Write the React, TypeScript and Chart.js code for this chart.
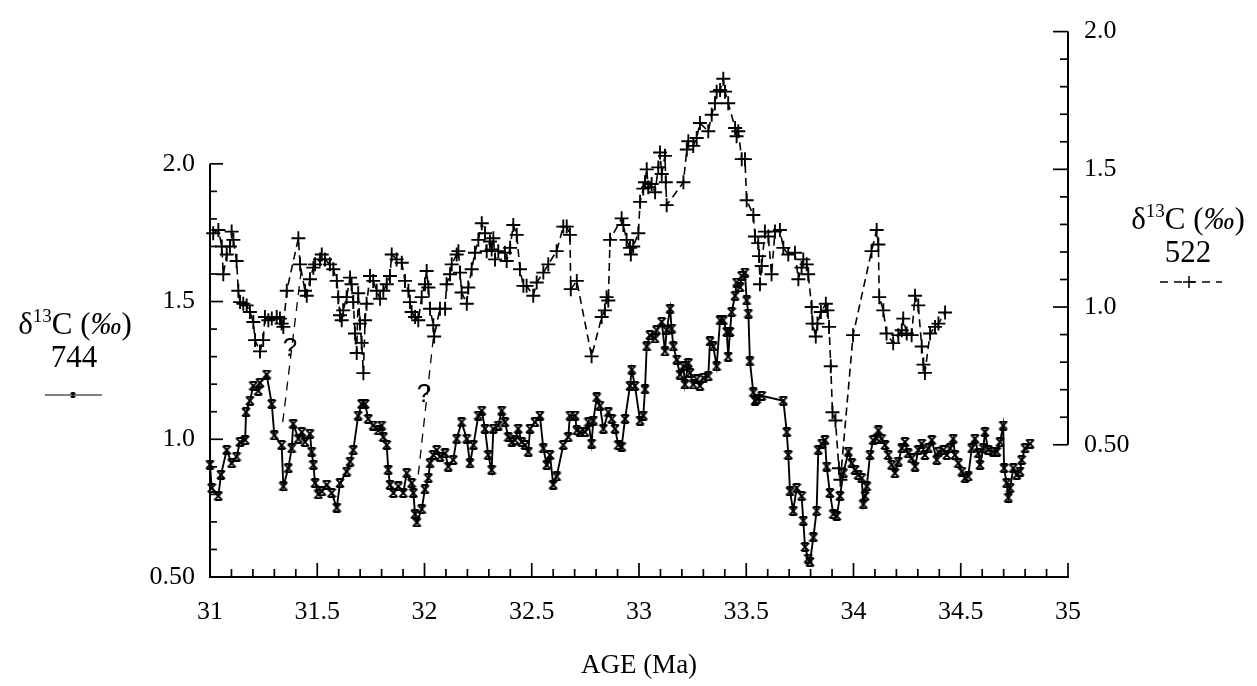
import React, { useEffect, useRef } from "react";
import { Chart, registerables } from "chart.js";

Chart.register(...registerables);

// ---- Data: Site 744 (left axis, solid) ----
const ages744 = [
  31.000, 31.008, 31.039, 31.051, 31.078, 31.101, 31.124, 31.140, 31.164, 31.168,
  31.186, 31.202, 31.225, 31.233, 31.264, 31.288, 31.300, 31.334, 31.342, 31.365,
  31.381, 31.388, 31.412, 31.428, 31.443, 31.466, 31.474, 31.482, 31.490, 31.505,
  31.521, 31.544, 31.567, 31.591, 31.606, 31.637, 31.653, 31.668, 31.691, 31.707,
  31.723, 31.738, 31.761, 31.785, 31.800, 31.808, 31.824, 31.831, 31.839, 31.855,
  31.878, 31.901, 31.917, 31.940, 31.948, 31.956, 31.964, 31.987, 32.002, 32.018,
  32.026, 32.041, 32.057, 32.072, 32.096, 32.111, 32.134, 32.150, 32.173, 32.197,
  32.212, 32.228, 32.251, 32.267, 32.282, 32.297, 32.313, 32.321, 32.344, 32.360,
  32.375, 32.391, 32.407, 32.422, 32.437, 32.453, 32.469, 32.484, 32.492, 32.515,
  32.538, 32.554, 32.570, 32.585, 32.600, 32.616, 32.647, 32.670, 32.678, 32.702,
  32.710, 32.725, 32.748, 32.764, 32.779, 32.787, 32.803, 32.818, 32.834, 32.857,
  32.873, 32.888, 32.904, 32.919, 32.935, 32.958, 32.966, 32.981, 33.005, 33.020,
  33.028, 33.036, 33.051, 33.075, 33.082, 33.106, 33.121, 33.129, 33.145, 33.152,
  33.160, 33.176, 33.191, 33.207, 33.214, 33.230, 33.238, 33.253, 33.269, 33.284,
  33.300, 33.323, 33.331, 33.346, 33.362, 33.378, 33.393, 33.409, 33.416, 33.424,
  33.432, 33.448, 33.455, 33.471, 33.479, 33.494, 33.502, 33.510, 33.517, 33.533,
  33.541, 33.549, 33.572, 33.673, 33.689, 33.696, 33.704, 33.719, 33.735, 33.758,
  33.766, 33.774, 33.789, 33.797, 33.813, 33.828, 33.836, 33.852, 33.867, 33.875,
  33.890, 33.906, 33.922, 33.937, 33.953, 33.976, 33.992, 34.007, 34.022, 34.038,
  34.046, 34.054, 34.062, 34.077, 34.092, 34.108, 34.116, 34.131, 34.147, 34.162,
  34.178, 34.193, 34.209, 34.225, 34.240, 34.255, 34.271, 34.287, 34.302, 34.318,
  34.333, 34.349, 34.365, 34.388, 34.396, 34.419, 34.435, 34.450, 34.465, 34.473,
  34.489, 34.505, 34.520, 34.535, 34.551, 34.566, 34.582, 34.590, 34.605, 34.613,
  34.628, 34.652, 34.668, 34.683, 34.698, 34.702, 34.714, 34.722, 34.730, 34.745,
  34.761, 34.776, 34.784, 34.800, 34.823,
];
const d13C744 = [
  0.908, 0.823, 0.794, 0.871, 0.961, 0.913, 0.937, 0.990, 0.997, 1.098,
  1.140, 1.194, 1.176, 1.205, 1.235, 1.128, 1.014, 0.979, 0.829, 0.895,
  0.967, 1.056, 1.002, 1.026, 0.990, 1.020, 0.955, 0.907, 0.841, 0.800,
  0.811, 0.835, 0.805, 0.752, 0.841, 0.883, 0.919, 0.961, 1.086, 1.128,
  1.128, 1.074, 1.050, 1.032, 1.050, 1.008, 0.979, 0.889, 0.835, 0.805,
  0.829, 0.805, 0.877, 0.841, 0.805, 0.728, 0.698, 0.746, 0.818, 0.859,
  0.913, 0.943, 0.961, 0.937, 0.949, 0.901, 0.925, 1.002, 1.062, 1.002,
  0.913, 0.979, 1.086, 1.104, 1.038, 0.943, 0.889, 1.038, 1.050, 1.104,
  1.062, 1.008, 0.990, 0.997, 1.038, 0.990, 0.979, 0.955, 1.038, 1.062,
  1.086, 0.967, 0.907, 0.943, 0.835, 0.865, 0.979, 1.008, 1.086, 1.086,
  1.032, 1.026, 1.026, 1.062, 0.984, 1.068, 1.152, 1.122, 1.038, 1.098,
  1.074, 1.038, 0.979, 0.973, 1.074, 1.194, 1.253, 1.194, 1.068, 1.086,
  1.181, 1.337, 1.378, 1.366, 1.396, 1.426, 1.319, 1.396, 1.474, 1.402,
  1.337, 1.289, 1.235, 1.265, 1.199, 1.277, 1.241, 1.199, 1.217, 1.194,
  1.223, 1.229, 1.355, 1.337, 1.265, 1.432, 1.432, 1.390, 1.300, 1.390,
  1.462, 1.521, 1.569, 1.552, 1.593, 1.605, 1.504, 1.456, 1.283, 1.170,
  1.140, 1.146, 1.158, 1.140, 1.026, 0.943, 0.811, 0.740, 0.823, 0.794,
  0.704, 0.609, 0.567, 0.555, 0.644, 0.740, 0.961, 0.984, 0.997, 0.901,
  0.805, 0.728, 0.722, 0.794, 0.877, 0.955, 0.913, 0.889, 0.871, 0.859,
  0.764, 0.794, 0.829, 0.943, 0.997, 1.002, 1.032, 1.002, 0.979, 0.943,
  0.907, 0.877, 0.919, 0.967, 0.990, 0.949, 0.931, 0.901, 0.961, 0.984,
  0.943, 0.967, 0.997, 0.925, 0.955, 0.961, 0.943, 0.967, 1.002, 0.943,
  0.913, 0.883, 0.859, 0.865, 0.967, 1.002, 0.949, 0.907, 0.967, 1.026,
  0.961, 0.955, 0.955, 0.990, 1.050, 0.895, 0.841, 0.788, 0.823, 0.895,
  0.871, 0.883, 0.925, 0.967, 0.984,
];

// ---- Data: Site 522 (right axis, dashed) ----
const ages522 = [
  31.015, 31.039, 31.055, 31.062, 31.078, 31.093, 31.101, 31.109, 31.124, 31.132,
  31.140, 31.155, 31.171, 31.186, 31.202, 31.210, 31.233, 31.248, 31.256, 31.272,
  31.288, 31.311, 31.326, 31.334, 31.342, 31.358, 31.412, 31.420, 31.443, 31.451,
  31.466, 31.482, 31.490, 31.513, 31.521, 31.536, 31.559, 31.575, 31.591, 31.598,
  31.606, 31.614, 31.621, 31.637, 31.653, 31.660, 31.668, 31.676, 31.684, 31.691,
  31.699, 31.707, 31.715, 31.723, 31.730, 31.746, 31.761, 31.777, 31.793, 31.808,
  31.824, 31.839, 31.847, 31.870, 31.894, 31.909, 31.925, 31.932, 31.940, 31.956,
  31.971, 31.987, 32.002, 32.010, 32.018, 32.026, 32.041, 32.045, 32.072, 32.096,
  32.103, 32.119, 32.127, 32.150, 32.158, 32.166, 32.173, 32.197, 32.204, 32.220,
  32.235, 32.251, 32.267, 32.282, 32.290, 32.305, 32.313, 32.321, 32.329, 32.344,
  32.375, 32.383, 32.399, 32.414, 32.430, 32.445, 32.461, 32.476, 32.507, 32.523,
  32.554, 32.577, 32.616, 32.647, 32.663, 32.678, 32.682, 32.710, 32.779, 32.826,
  32.841, 32.849, 32.857, 32.865, 32.919, 32.927, 32.942, 32.958, 32.962, 32.973,
  32.997, 33.005, 33.020, 33.028, 33.036, 33.043, 33.059, 33.075, 33.090, 33.098,
  33.106, 33.121, 33.125, 33.129, 33.207, 33.223, 33.230, 33.253, 33.269, 33.284,
  33.323, 33.339, 33.354, 33.362, 33.378, 33.393, 33.401, 33.416, 33.448, 33.455,
  33.463, 33.479, 33.494, 33.502, 33.533, 33.541, 33.556, 33.560, 33.564, 33.572,
  33.587, 33.603, 33.618, 33.634, 33.657, 33.673, 33.696, 33.727, 33.743, 33.758,
  33.766, 33.782, 33.789, 33.805, 33.809, 33.824, 33.832, 33.848, 33.871, 33.879,
  33.886, 33.894, 33.902, 33.916, 33.932, 33.939, 33.998, 34.084, 34.108, 34.116,
  34.120, 34.139, 34.154, 34.185, 34.209, 34.225, 34.232, 34.248, 34.271, 34.287,
  34.302, 34.318, 34.326, 34.333, 34.357, 34.380, 34.396, 34.427,
];
const d13C522 = [
  1.268, 1.280, 1.220, 1.119, 1.191, 1.220, 1.274, 1.244, 1.167, 1.059,
  1.018, 1.012, 1.006, 0.982, 0.946, 0.880, 0.839, 0.880, 0.964, 0.952,
  0.958, 0.964, 0.958, 0.940, 0.928, 1.059, 1.250, 1.155, 1.059, 1.041,
  1.101, 1.143, 1.155, 1.173, 1.191, 1.173, 1.155, 1.137, 1.095, 1.036,
  0.970, 0.952, 0.988, 1.036, 1.107, 1.083, 1.018, 0.904, 0.833, 1.050,
  0.940, 0.870, 0.760, 0.952, 1.012, 1.113, 1.095, 1.059, 1.030, 1.059,
  1.083, 1.113, 1.191, 1.173, 1.161, 1.095, 1.059, 1.018, 0.982, 0.964,
  0.952, 1.036, 1.083, 1.131, 1.071, 0.994, 0.934, 0.893, 0.994, 0.994,
  1.083, 1.119, 1.155, 1.191, 1.203, 1.125, 1.053, 1.012, 1.071, 1.137,
  1.197, 1.244, 1.304, 1.268, 1.203, 1.238, 1.209, 1.250, 1.173, 1.203,
  1.197, 1.167, 1.215, 1.298, 1.262, 1.137, 1.077, 1.077, 1.041, 1.089,
  1.125, 1.155, 1.203, 1.292, 1.292, 1.262, 1.065, 1.095, 0.821, 0.964,
  0.988, 1.036, 1.024, 1.244, 1.322, 1.298, 1.244, 1.215, 1.191, 1.220,
  1.268, 1.382, 1.430, 1.453, 1.500, 1.435, 1.447, 1.417, 1.507, 1.561,
  1.483, 1.549, 1.453, 1.370, 1.453, 1.572, 1.602, 1.585, 1.614, 1.668,
  1.638, 1.698, 1.740, 1.782, 1.788, 1.829, 1.782, 1.740, 1.650, 1.620,
  1.638, 1.537, 1.537, 1.388, 1.334, 1.256, 1.232, 1.185, 1.083, 1.149,
  1.274, 1.256, 1.119, 1.274, 1.280, 1.215, 1.191, 1.197, 1.101, 1.143,
  1.173, 1.155, 1.119, 1.000, 0.940, 0.893, 0.940, 0.982, 1.012, 0.988,
  0.928, 0.785, 0.618, 0.588, 0.415, 0.373, 0.898, 1.203, 1.280, 1.227,
  1.036, 0.988, 0.904, 0.869, 0.898, 0.916, 0.958, 0.904, 0.898, 1.041,
  1.006, 0.857, 0.791, 0.761, 0.904, 0.928, 0.940, 0.980,
];

// ---- Correlation connectors ("?") in left-axis units ----
const connector1Ages = [31.339, 31.427];
const connector1Vals = [1.062, 1.624];
const connector2Ages = [31.971, 32.041];
const connector2Vals = [0.872, 1.366];
const questionAges = [31.373, 31.998];
const questionVals = [1.33, 1.162];

// ---- Axis ticks ----
const ageTicks = [31, 31.5, 32, 32.5, 33, 33.5, 34, 34.5, 35];
const leftTicks = [0.5, 1.0, 1.5, 2.0];
const rightTicks = [0.5, 1.0, 1.5, 2.0];
const tickLabel = (v: number) => (v === 0.5 ? "0.50" : v.toFixed(1));

const SERIF = '"Liberation Serif", "Times New Roman", serif';

function makeHourglass(size: number, lw: number) {
  const c = document.createElement("canvas");
  c.width = size;
  c.height = size;
  const g = c.getContext("2d")!;
  g.strokeStyle = "#000";
  g.lineWidth = lw;
  const a = lw / 2;
  const b = size - lw / 2;
  g.beginPath();
  g.moveTo(a, a);
  g.lineTo(b, b);
  g.moveTo(b, a);
  g.lineTo(a, b);
  g.moveTo(a + 1, a);
  g.lineTo(b - 1, a);
  g.moveTo(a + 1, b);
  g.lineTo(b - 1, b);
  g.stroke();
  return c;
}

function drawDeltaLabel(ctx: CanvasRenderingContext2D, cx: number, cy: number, size: number) {
  const big = `${size}px ${SERIF}`;
  const small = `${Math.round(size * 0.62)}px ${SERIF}`;
  const ital = `italic ${size}px ${SERIF}`;
  const parts = [
    { t: "δ", f: big, dy: 0 },
    { t: "13", f: small, dy: -size * 0.3 },
    { t: "C (", f: big, dy: 0 },
    { t: "‰", f: ital, dy: 0 },
    { t: ")", f: big, dy: 0 },
  ];
  let w = 0;
  for (const p of parts) {
    ctx.font = p.f;
    w += ctx.measureText(p.t).width;
  }
  let x = cx - w / 2;
  ctx.textBaseline = "middle";
  ctx.textAlign = "left";
  for (const p of parts) {
    ctx.font = p.f;
    ctx.fillText(p.t, x, cy + p.dy);
    x += ctx.measureText(p.t).width;
  }
}

const decorPlugin = {
  id: "decor",
  afterDatasetsDraw(chart: any) {
    const { ctx } = chart;
    const xs = chart.scales.x;
    const yL = chart.scales.yL;
    const yR = chart.scales.yR;
    const line = (x1: number, y1: number, x2: number, y2: number) => {
      ctx.beginPath();
      ctx.moveTo(x1, y1);
      ctx.lineTo(x2, y2);
      ctx.stroke();
    };
    ctx.save();
    ctx.strokeStyle = "#000";
    ctx.fillStyle = "#000";
    ctx.lineWidth = 2;
    ctx.setLineDash([]);
    const x0 = xs.getPixelForValue(31);
    const x1 = xs.getPixelForValue(35);
    const yb = yL.getPixelForValue(0.5);
    const yt = yL.getPixelForValue(2.0);
    const rb = yR.getPixelForValue(0.5);
    const rt = yR.getPixelForValue(2.0);
    line(x0 - 1, yb, x1 + 1, yb);
    line(x0, yb, x0, yt);
    line(x1, rb, x1, rt);
    ctx.lineWidth = 1.7;
    for (let i = 1; i <= 40; i++) {
      const px = xs.getPixelForValue(31 + i * 0.1);
      const major = i % 5 === 0;
      line(px, yb, px, yb - (major ? 14 : 8));
    }
    for (let i = 0; i <= 15; i++) {
      const v = 0.5 + i * 0.1;
      const major = i % 5 === 0;
      const pl = yL.getPixelForValue(v);
      line(x0, pl, x0 + (major ? 13 : 7), pl);
      const pr = yR.getPixelForValue(v);
      line(x1, pr, x1 - (major ? 15 : 8), pr);
    }

    // question marks
    ctx.font = `26px "Liberation Sans", Arial, sans-serif`;
    ctx.textAlign = "center";
    ctx.textBaseline = "middle";
    for (let i = 0; i < questionAges.length; i++) {
      ctx.fillText("?", xs.getPixelForValue(questionAges[i]), yL.getPixelForValue(questionVals[i]));
    }

    // left axis label
    drawDeltaLabel(ctx, 75, 326, 31);
    ctx.font = `31px ${SERIF}`;
    ctx.textAlign = "center";
    ctx.fillText("744", 74, 359);
    ctx.lineWidth = 1.2;
    line(45, 395, 102, 395);
    const mk = makeHourglass(6, 1.5);
    ctx.drawImage(mk, 73 - 3, 395 - 3);

    // right axis label
    drawDeltaLabel(ctx, 1188, 221, 31);
    ctx.font = `31px ${SERIF}`;
    ctx.textAlign = "center";
    ctx.fillText("522", 1188, 254);
    ctx.lineWidth = 1.5;
    ctx.setLineDash([8, 6]);
    line(1160, 282, 1222, 282);
    ctx.setLineDash([]);
    line(1189, 276, 1189, 288);
    line(1183, 282, 1195, 282);
    ctx.restore();
  },
};

export default function App() {
  const ref = useRef<HTMLCanvasElement | null>(null);
  useEffect(() => {
    const canvas = ref.current;
    if (!canvas) return;
    const marker744 = makeHourglass(10, 1.9);
    const tickFont = { family: SERIF, size: 26 };
    const chart = new Chart(canvas, {
      type: "line",
      data: {
        datasets: [
          {
            label: "744",
            data: ages744.map((a, i) => ({ x: a, y: d13C744[i] })),
            yAxisID: "yL",
            borderColor: "#000",
            borderWidth: 1.9,
            pointStyle: marker744 as any,
            pointRadius: 5,
            pointBorderColor: "#000",
            fill: false,
            tension: 0,
            clip: 12,
          },
          {
            label: "522",
            data: ages522.map((a, i) => ({ x: a, y: d13C522[i] })),
            yAxisID: "yR",
            borderColor: "#000",
            borderWidth: 1.6,
            borderDash: [8, 5],
            pointStyle: "cross",
            pointRadius: 7,
            pointBorderWidth: 1.9,
            pointBorderColor: "#000",
            fill: false,
            tension: 0,
            clip: 12,
          },
          {
            label: "c1",
            data: connector1Ages.map((a, i) => ({ x: a, y: connector1Vals[i] })),
            yAxisID: "yL",
            borderColor: "#000",
            borderWidth: 1.3,
            borderDash: [9, 7],
            pointRadius: 0,
            fill: false,
          },
          {
            label: "c2",
            data: connector2Ages.map((a, i) => ({ x: a, y: connector2Vals[i] })),
            yAxisID: "yL",
            borderColor: "#000",
            borderWidth: 1.3,
            borderDash: [9, 7],
            pointRadius: 0,
            fill: false,
          },
        ],
      },
      options: {
        animation: false,
        responsive: false,
        events: [],
        layout: { padding: { top: 22, left: 0, right: 0, bottom: 0 } },
        plugins: { legend: { display: false }, tooltip: { enabled: false } },
        scales: {
          x: {
            type: "linear",
            position: "bottom",
            min: 31,
            max: 35,
            grid: { display: false, drawTicks: false },
            border: { display: false },
            afterBuildTicks: (s: any) => {
              s.ticks = ageTicks.map((v) => ({ value: v }));
            },
            ticks: {
              font: tickFont,
              color: "#000",
              padding: 20,
              maxRotation: 0,
              autoSkip: false,
              callback: (v: any) => String(v),
            },
            title: {
              display: true,
              text: "AGE (Ma)",
              color: "#000",
              font: { family: SERIF, size: 27 },
              padding: { top: 0, bottom: 4 },
            },
            afterFit: (s: any) => {
              s.height = 109;
            },
          },
          yL: {
            type: "linear",
            position: "left",
            min: 0.5,
            max: 2.48,
            grid: { display: false, drawTicks: false },
            border: { display: false },
            afterBuildTicks: (s: any) => {
              s.ticks = leftTicks.map((v) => ({ value: v }));
            },
            ticks: {
              font: tickFont,
              color: "#000",
              padding: 15,
              autoSkip: false,
              callback: (v: any) => tickLabel(Number(v)),
            },
            afterFit: (s: any) => {
              s.width = 210;
            },
          },
          yR: {
            type: "linear",
            position: "right",
            min: 0.02,
            max: 2.0,
            grid: { display: false, drawTicks: false },
            border: { display: false },
            afterBuildTicks: (s: any) => {
              s.ticks = rightTicks.map((v) => ({ value: v }));
            },
            ticks: {
              font: tickFont,
              color: "#000",
              padding: 16,
              autoSkip: false,
              callback: (v: any) => tickLabel(Number(v)),
            },
            afterFit: (s: any) => {
              s.width = 189;
            },
          },
        },
      } as any,
      plugins: [decorPlugin],
    });
    return () => chart.destroy();
  }, []);

  return (
    <div style={{ position: "fixed", left: 0, top: 0, width: 1257, height: 686, background: "#fff" }}>
      <canvas ref={ref} width={1257} height={686} style={{ display: "block" }} />
    </div>
  );
}
